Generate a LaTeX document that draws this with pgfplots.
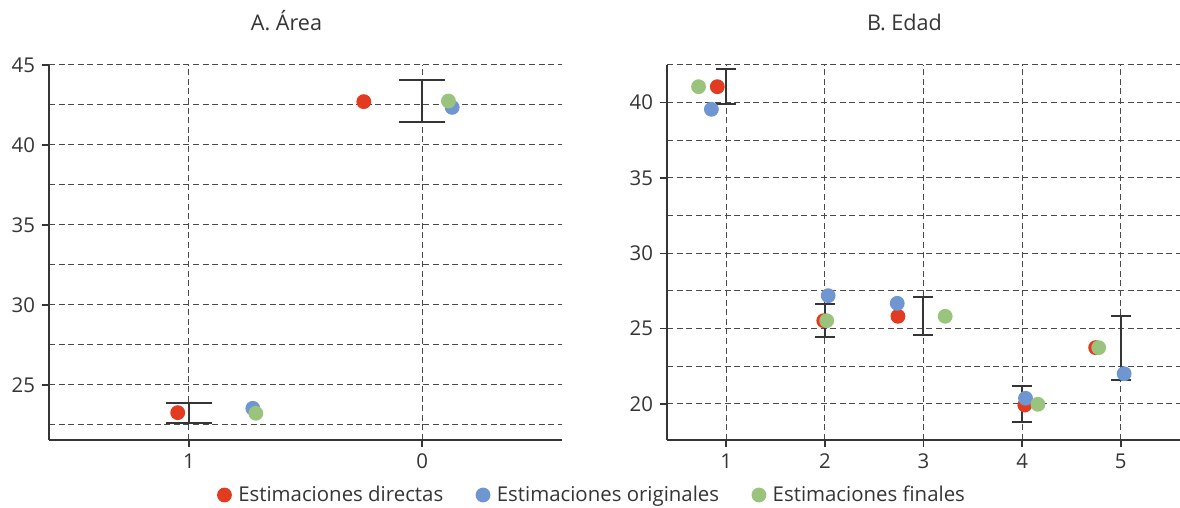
\documentclass[border=0pt]{standalone}
\usepackage{fontspec}
\setmainfont{Open Sans}
\usepackage{pgfplots}
\pgfplotsset{compat=1.18}

\definecolor{cDir}{HTML}{E23B1F}
\definecolor{cOri}{HTML}{6F96D1}
\definecolor{cFin}{HTML}{9AC47E}
\definecolor{axgray}{HTML}{353535}
\definecolor{gridgray}{HTML}{4A4A4A}

\pgfplotsset{
  panel/.style={
    scale only axis, width=256.5pt, height=187.5pt,
    axis x line*=bottom, axis y line*=left,
    axis line style={-, draw=axgray, line width=0.8pt},
    tick style={draw=axgray, line width=0.8pt},
    tick align=outside, major tick length=3.5pt, minor tick length=0pt,
    grid=both,
    major grid style={draw=gridgray, line width=0.5pt, dash pattern=on 3pt off 1.8pt},
    minor grid style={draw=gridgray, line width=0.5pt, dash pattern=on 3pt off 1.8pt},
    tick label style={font=\fontsize{10.2}{12}\selectfont, text=axgray},
    /pgf/number format/assume math mode=true,
    title style={at={(0.5,1)}, anchor=base, yshift=11pt, xshift=-9.5pt,
      font=\fontsize{10.8}{13}\selectfont, text=axgray},
    clip=false,
  },
  dot/.style={only marks, mark=*, color=#1, fill=#1, mark size=3.4pt,
    line width=0.6pt},
  ci/.style={draw=none, mark=none, forget plot,
    error bars/.cd, y dir=both, y explicit,
    error bar style={draw=axgray, line width=1pt, solid},
    error mark options={rotate=90, draw=axgray, line width=1pt, mark size=#1}},
}

\begin{document}
\begin{tikzpicture}
\path[use as bounding box] (0,0) rectangle (590pt,254pt);

% Panel A: area
\begin{axis}[panel, at={(24.5pt,34pt)}, anchor=south west,
  title={A. Área},
  xmin=-0.6, xmax=1.6, ymin=21.56, ymax=45,
  xtick={0,1}, xticklabels={1,0},
  ytick={25,30,35,40,45}, minor ytick={22.5,27.5,32.5,37.5,42.5},
  legend style={at={(1.064,-0.1467)}, anchor=center, draw=none, fill=none,
    legend columns=3, font=\fontsize{10.2}{12}\selectfont, text=axgray,
    nodes={inner sep=3.5pt},
    /tikz/every even column/.append style={column sep=13pt}},
  legend image code/.code={\draw[#1] plot coordinates {(0pt,0pt)};},
]
\addplot[dot=cDir] coordinates {(-0.048,23.27) (0.750,42.71)};
\addlegendentry{Estimaciones directas}
\addplot[dot=cOri] coordinates {(0.274,23.54) (1.129,42.35)};
\addlegendentry{Estimaciones originales}
\addplot[dot=cFin] coordinates {(0.287,23.23) (1.113,42.75)};
\addlegendentry{Estimaciones finales}
\addplot[ci=11.5pt] coordinates {(0,23.25) +- (0,0.60) (1,42.73) +- (0,1.31)};
\end{axis}

% Panel B: age
\begin{axis}[panel, at={(333.5pt,34pt)}, anchor=south west,
  title={B. Edad},
  xmin=0.4, xmax=5.6, ymin=17.61, ymax=42.5,
  xtick={1,2,3,4,5},
  ytick={20,25,30,35,40}, minor ytick={22.5,27.5,32.5,37.5,42.5},
]
\addplot[dot=cDir] coordinates {(0.910,41.06) (1.989,25.53) (2.741,25.82) (4.027,19.93) (4.745,23.74)};
\addplot[dot=cOri] coordinates {(0.850,39.56) (2.034,27.19) (2.734,26.68) (4.034,20.38) (5.034,22.01)};
\addplot[dot=cFin] coordinates {(0.720,41.06) (2.019,25.53) (3.220,25.82) (4.160,19.98) (4.776,23.74)};
\addplot[ci=5pt] coordinates {(1,41.06) +- (0,1.17) (2,25.55) +- (0,1.08) (3,25.83) +- (0,1.25) (4,19.99) +- (0,1.18) (5,23.70) +- (0,2.13)};
\end{axis}
\end{tikzpicture}
\end{document}
